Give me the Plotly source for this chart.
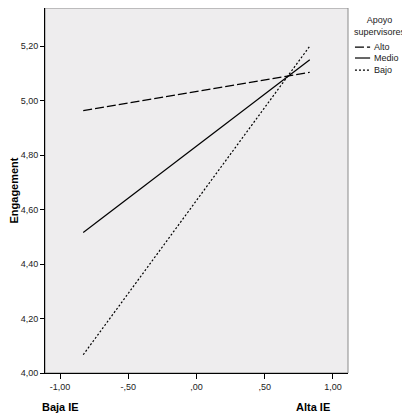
import plotly.graph_objects as go

ie_x = [-0.83, 0.83]
alto = [4.963, 5.104]
medio = [4.516, 5.150]
bajo = [4.067, 5.200]

grupos = ["Alto", "Medio", "Bajo"]
estilos = ["9px,3px", "solid", "2px,2px"]

x_ticks = [-1.0, -0.5, 0.0, 0.5, 1.0]
x_labels = ["-1,00", "-,50", ",00", ",50", "1,00"]
y_ticks = [4.0, 4.2, 4.4, 4.6, 4.8, 5.0, 5.2]
y_labels = ["4,00", "4,20", "4,40", "4,60", "4,80", "5,00", "5,20"]

fig = go.Figure()

for nombre, serie, estilo in zip(grupos, [alto, medio, bajo], estilos):
    fig.add_trace(go.Scatter(
        x=ie_x, y=serie, mode="lines", name=nombre,
        line=dict(color="black", width=1.2, dash=estilo),
        showlegend=False
    ))

# leyenda manual (estilo SPSS)
fig.add_annotation(text="Apoyo<br>supervisores", xref="paper", yref="paper",
                   x=1.106, y=0.985, xanchor="center", yanchor="top", showarrow=False,
                   font=dict(size=9, color="#222"), align="center")
leg_y = [0.893, 0.863, 0.830]
for nombre, estilo, yy in zip(grupos, estilos, leg_y):
    fig.add_shape(type="line", xref="paper", yref="paper",
                  x0=1.023, x1=1.073, y0=yy, y1=yy,
                  line=dict(color="black", width=1.2, dash=estilo))
    fig.add_annotation(text=nombre, xref="paper", yref="paper", x=1.078, y=yy,
                       xanchor="left", yanchor="middle", showarrow=False,
                       font=dict(size=9, color="#222"))

fig.add_annotation(text="<b>Baja IE</b>", xref="x", yref="paper", x=-1.0, y=-0.07,
                   xanchor="center", yanchor="top", showarrow=False,
                   font=dict(size=11, color="black"))
fig.add_annotation(text="<b>Alta IE</b>", xref="x", yref="paper", x=0.85, y=-0.07,
                   xanchor="center", yanchor="top", showarrow=False,
                   font=dict(size=11, color="black"))

fig.update_xaxes(range=[-1.11, 1.11], tickvals=x_ticks, ticktext=x_labels,
                 ticks="outside", ticklen=5, tickcolor="black", showgrid=False,
                 zeroline=False, showline=True, linecolor="black", linewidth=1,
                 mirror=False, tickfont=dict(size=9, color="#222"))
fig.update_yaxes(range=[4.0, 5.34], tickvals=y_ticks, ticktext=y_labels,
                 ticks="outside", ticklen=4, tickcolor="black", showgrid=False,
                 zeroline=False, showline=True, linecolor="black", linewidth=1,
                 tickfont=dict(size=9, color="#222"),
                 title=dict(text="<b>Engagement</b>", font=dict(size=11, color="black"),
                            standoff=6))

# borde gris del area de grafico
fig.add_shape(type="rect", xref="paper", yref="paper", x0=0, x1=1, y0=0, y1=1,
              line=dict(color="#8a8a8a", width=1), layer="below")

fig.update_layout(
    width=402, height=407,
    margin=dict(l=37, r=62, t=0, b=42),
    plot_bgcolor="#eeedee", paper_bgcolor="white",
    font=dict(family="Arial, Liberation Sans, sans-serif"),
    showlegend=False
)

fig.write_html("out.html")
